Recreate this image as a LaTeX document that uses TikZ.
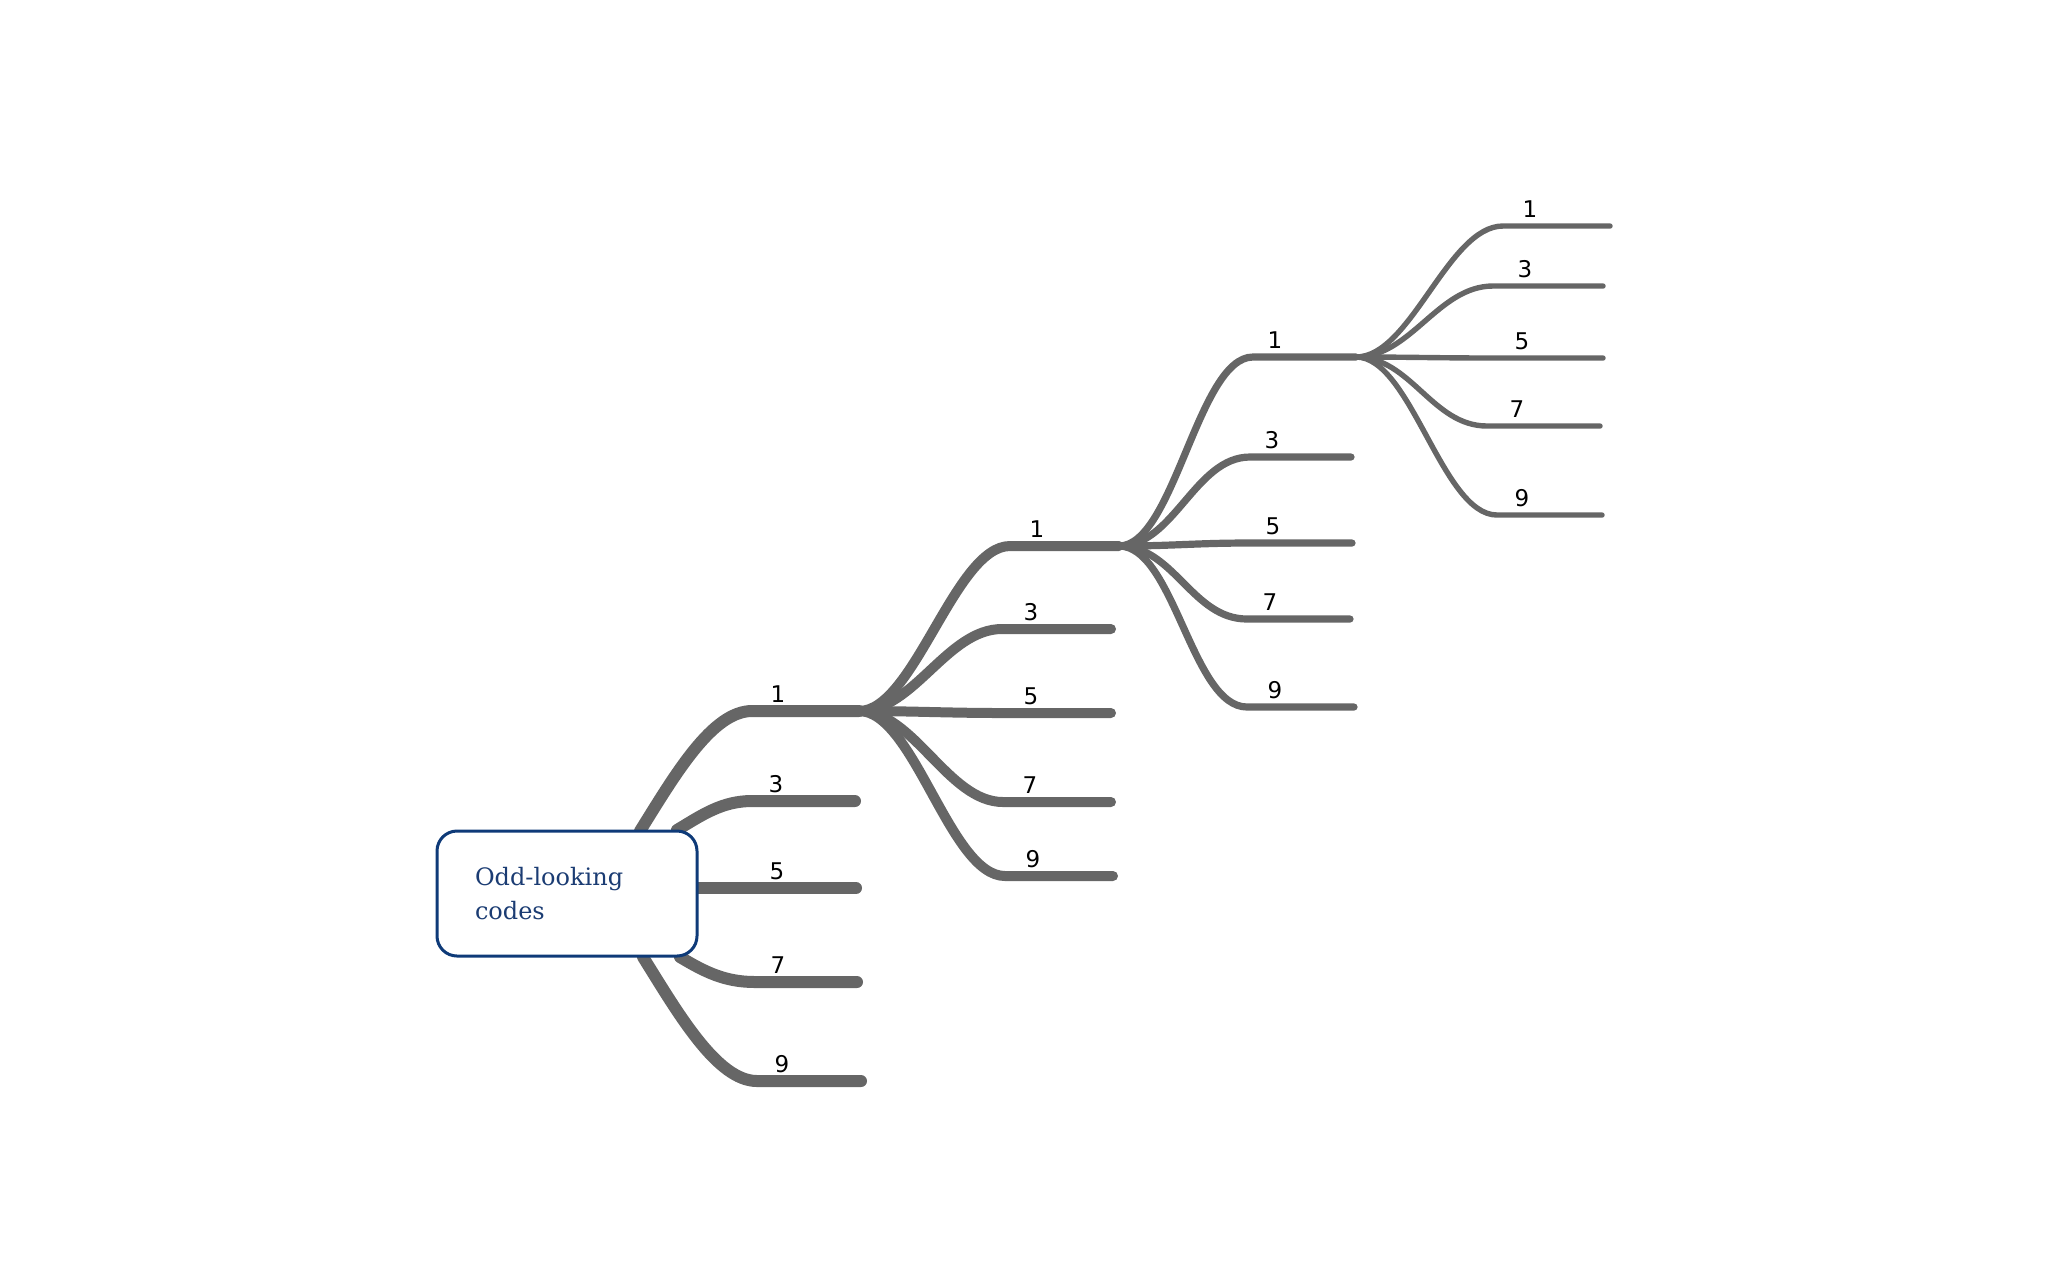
\documentclass[tikz,border=0pt]{standalone}
\usepackage{fontspec}
\setmainfont{DejaVu Sans}
\newfontfamily\rootfont{DejaVu Serif}
\usetikzlibrary{calc}
\pgfdeclarelayer{bg}
\pgfsetlayers{bg,main}
\definecolor{lncol}{HTML}{666666}
\definecolor{rootcol}{HTML}{0E3A78}
\definecolor{roottext}{HTML}{1B3C73}
\begin{document}
\begin{tikzpicture}[x=0.5pt,y=-0.5pt,
  branch/.style={draw=lncol,line cap=round,line join=round},
  lvA/.style={branch,line width=6pt},
  lvB/.style={branch,line width=5pt},
  lvC/.style={branch,line width=3.6pt},
  lvD/.style={branch,line width=2.7pt},
  lbl/.style={anchor=base,inner sep=0pt,font=\fontsize{11.5}{13}\selectfont},
  rootbox/.style={draw=rootcol,line width=1.5pt,fill=white,rounded corners=10pt,
    minimum width=130pt,minimum height=62.5pt,text width=92pt,inner xsep=19pt,
    align=left,text=roottext,font=\rootfont\fontsize{12}{17}\selectfont}]
\useasboundingbox (0,0) rectangle (2048,1266);

% root
\node[rootbox] (root) at (567,893.5) {Odd-looking\\codes};

% level 1 geometry
\coordinate (r1) at (640,831);
\coordinate (r3) at (677,830);
\coordinate (r5) at (697,888);
\coordinate (r7) at (680,957);
\coordinate (r9) at (643,957);
\coordinate (a1s) at (752,711);  \coordinate (a1e) at (859,711);
\coordinate (a3s) at (752,801);  \coordinate (a3e) at (855,801);
\coordinate (a5s) at (752,888);  \coordinate (a5e) at (856,888);
\coordinate (a7s) at (755,982);  \coordinate (a7e) at (857,982);
\coordinate (a9s) at (757,1081); \coordinate (a9e) at (861,1081);
\node[lbl] (a1l) at (778,702) {1};
\node[lbl] (a3l) at (776,792) {3};
\node[lbl] (a5l) at (777,879) {5};
\node[lbl] (a7l) at (778,973) {7};
\node[lbl] (a9l) at (782,1072) {9};

% level 2 geometry
\coordinate (b1s) at (1010,546); \coordinate (b1e) at (1119,546);
\coordinate (b3s) at (1002,629); \coordinate (b3e) at (1111,629);
\coordinate (b5s) at (1002,713); \coordinate (b5e) at (1111,713);
\coordinate (b7s) at (1003,802); \coordinate (b7e) at (1111,802);
\coordinate (b9s) at (1005,876); \coordinate (b9e) at (1113,876);
\node[lbl] (b1l) at (1037,537) {1};
\node[lbl] (b3l) at (1031,620) {3};
\node[lbl] (b5l) at (1031,704) {5};
\node[lbl] (b7l) at (1030,793) {7};
\node[lbl] (b9l) at (1033,867) {9};

% level 3 geometry
\coordinate (c1s) at (1253,357); \coordinate (c1e) at (1356,357);
\coordinate (c3s) at (1250,457); \coordinate (c3e) at (1351,457);
\coordinate (c5s) at (1250,543); \coordinate (c5e) at (1352,543);
\coordinate (c7s) at (1247,619); \coordinate (c7e) at (1350,619);
\coordinate (c9s) at (1247,707); \coordinate (c9e) at (1354,707);
\node[lbl] (c1l) at (1275,348) {1};
\node[lbl] (c3l) at (1272,448) {3};
\node[lbl] (c5l) at (1273,534) {5};
\node[lbl] (c7l) at (1270,610) {7};
\node[lbl] (c9l) at (1275,698) {9};

% level 4 geometry
\coordinate (d1s) at (1503,226); \coordinate (d1e) at (1610,226);
\coordinate (d3s) at (1493,286); \coordinate (d3e) at (1603,286);
\coordinate (d5s) at (1493,358); \coordinate (d5e) at (1603,358);
\coordinate (d7s) at (1487,426); \coordinate (d7e) at (1600,426);
\coordinate (d9s) at (1497,515); \coordinate (d9e) at (1602,515);
\node[lbl] (d1l) at (1530,217) {1};
\node[lbl] (d3l) at (1525,277) {3};
\node[lbl] (d5l) at (1522,349) {5};
\node[lbl] (d7l) at (1517,417) {7};
\node[lbl] (d9l) at (1522,506) {9};

\begin{pgfonlayer}{bg}
% level 1
\draw[lvA] (r1) .. controls +(35,-56) and ($(a1s)+(-40,0)$) .. (a1s) -- (a1e);
\draw[lvA] (r3) .. controls +(25,-15) and ($(a3s)+(-30,0)$) .. (a3s) -- (a3e);
\draw[lvA] (r5) -- (a5s) -- (a5e);
\draw[lvA] (r7) .. controls +(25,15) and ($(a7s)+(-30,0)$) .. (a7s) -- (a7e);
\draw[lvA] (r9) .. controls +(35,56) and ($(a9s)+(-40,0)$) .. (a9s) -- (a9e);
% level 2
\foreach \k in {1,3,5,7,9}
  \draw[lvB] (a1e) .. controls +(55,0) and ($(b\k s)+(-55,0)$) .. (b\k s) -- (b\k e);
% level 3
\foreach \k in {1,3,5,7,9}
  \draw[lvC] (b1e) .. controls +(55,0) and ($(c\k s)+(-55,0)$) .. (c\k s) -- (c\k e);
% level 4
\foreach \k in {1,3,5,7,9}
  \draw[lvD] (c1e) .. controls +(55,0) and ($(d\k s)+(-55,0)$) .. (d\k s) -- (d\k e);
\end{pgfonlayer}
\end{tikzpicture}
\end{document}
